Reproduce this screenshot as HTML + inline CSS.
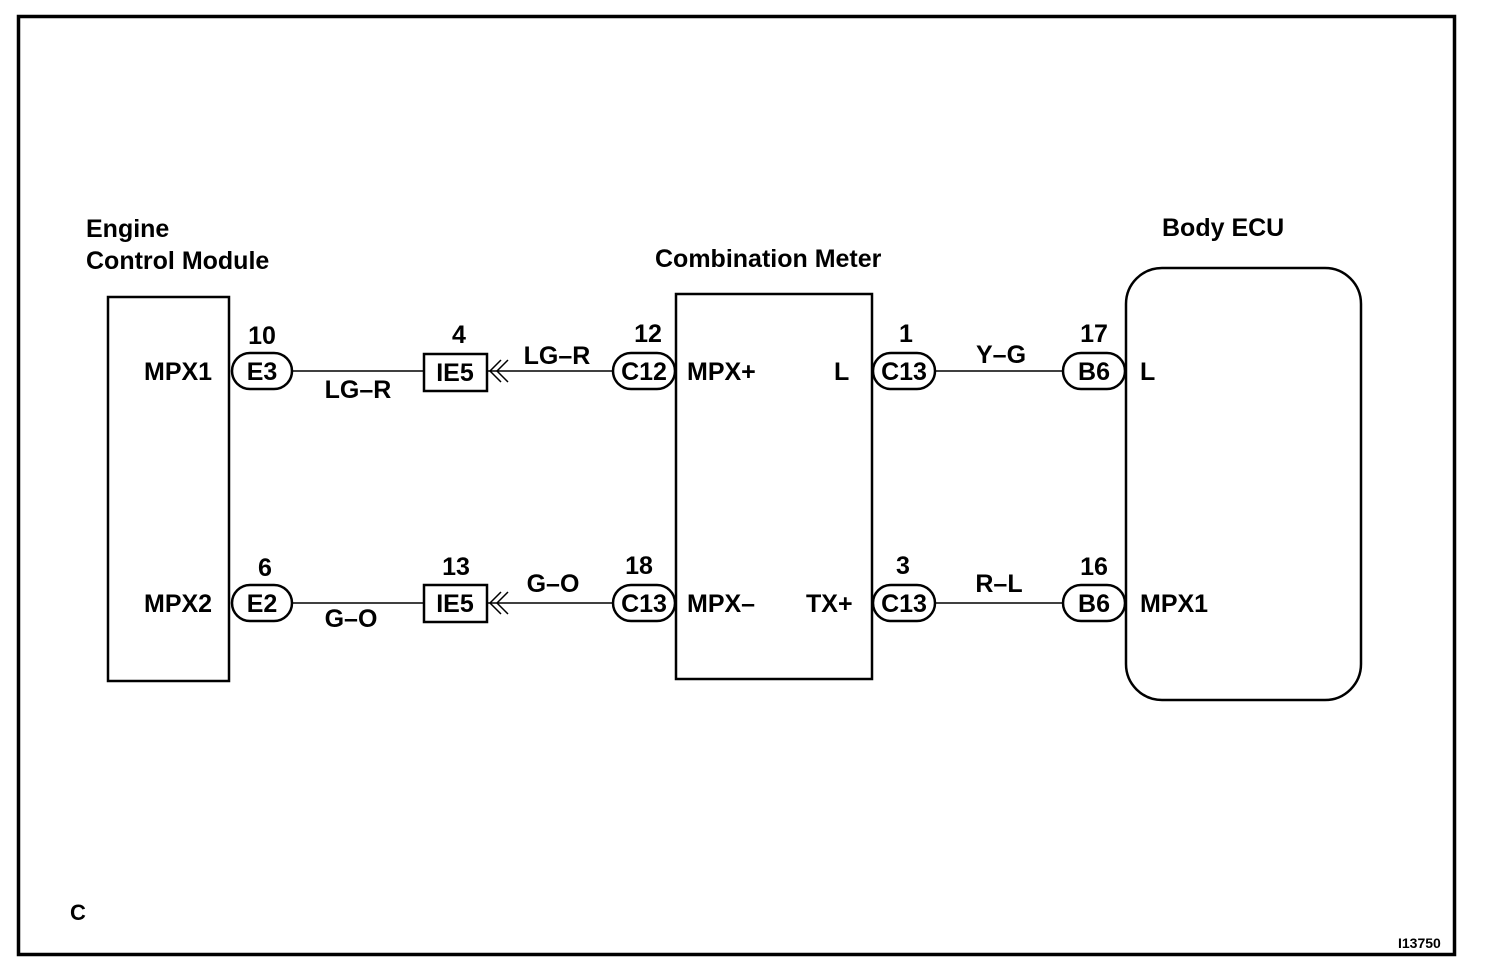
<!DOCTYPE html>
<html><head><meta charset="utf-8"><style>
html,body{margin:0;padding:0;background:#fff;}
svg{display:block;}
text{font-family:"Liberation Sans",Arial,sans-serif;font-size:25px;font-weight:bold;fill:#000;}
</style></head><body>
<svg width="1504" height="972" viewBox="0 0 1504 972">
<rect x="18.5" y="16.5" width="1436" height="938" fill="none" stroke="#000" stroke-width="3.5"/>
<g fill="none" stroke="#000" stroke-width="2.5">
<rect x="108" y="297" width="121" height="384"/>
<rect x="676" y="294" width="196" height="385"/>
<rect x="1126" y="268" width="235" height="432" rx="36" ry="36"/>
</g>
<g stroke="#000" stroke-width="1.5">
<line x1="292" y1="371" x2="423" y2="371"/>
<line x1="487" y1="371" x2="613" y2="371"/>
<line x1="935" y1="371" x2="1063" y2="371"/>
<line x1="292" y1="603" x2="423" y2="603"/>
<line x1="487" y1="603" x2="613" y2="603"/>
<line x1="935" y1="603" x2="1063" y2="603"/>
</g>
<g fill="#fff" stroke="#000" stroke-width="2.5">
<rect x="232" y="353" width="60" height="36" rx="18"/>
<rect x="613" y="353" width="62" height="36" rx="18"/>
<rect x="873" y="353" width="62" height="36" rx="18"/>
<rect x="1063" y="353" width="62" height="36" rx="18"/>
<rect x="232" y="585" width="60" height="36" rx="18"/>
<rect x="613" y="585" width="62" height="36" rx="18"/>
<rect x="873" y="585" width="62" height="36" rx="18"/>
<rect x="1063" y="585" width="62" height="36" rx="18"/>
<rect x="424" y="354" width="63" height="37"/>
<rect x="424" y="585" width="63" height="37"/>
</g>
<g fill="none" stroke="#000" stroke-width="1.5">
<polyline points="501,360 490,371 501,382"/><polyline points="508,360 497,371 508,382"/>
<polyline points="501,592 490,603 501,614"/><polyline points="508,592 497,603 508,614"/>
</g>
<text x="86" y="237">Engine</text>
<text x="86" y="269">Control Module</text>
<text x="655" y="267">Combination Meter</text>
<text x="1162" y="236">Body ECU</text>
<g text-anchor="middle">
<text x="262" y="344">10</text><text x="459" y="343">4</text><text x="648" y="342">12</text>
<text x="906" y="342">1</text><text x="1094" y="342">17</text>
<text x="265" y="576">6</text><text x="456" y="575">13</text><text x="639" y="574">18</text>
<text x="903" y="574">3</text><text x="1094" y="575">16</text>
<text x="262" y="380">E3</text><text x="644" y="380">C12</text><text x="904" y="380">C13</text><text x="1094" y="380">B6</text>
<text x="262" y="612">E2</text><text x="644" y="612">C13</text><text x="904" y="612">C13</text><text x="1094" y="612">B6</text>
<text x="455" y="381">IE5</text><text x="455" y="612">IE5</text>
<text x="358" y="398">LG–R</text><text x="557" y="364">LG–R</text><text x="1001" y="363">Y–G</text>
<text x="351" y="627">G–O</text><text x="553" y="592">G–O</text><text x="999" y="592">R–L</text>
</g>
<text x="144" y="380">MPX1</text>
<text x="144" y="612">MPX2</text>
<text x="687" y="380">MPX+</text>
<text x="687" y="612">MPX–</text>
<text x="834" y="380">L</text>
<text x="806" y="612">TX+</text>
<text x="1140" y="380">L</text>
<text x="1140" y="612">MPX1</text>
<text x="70" y="920" style="font-size:22px">C</text>
<text x="1398" y="948" style="font-size:14px">I13750</text>
</svg>
</body></html>
